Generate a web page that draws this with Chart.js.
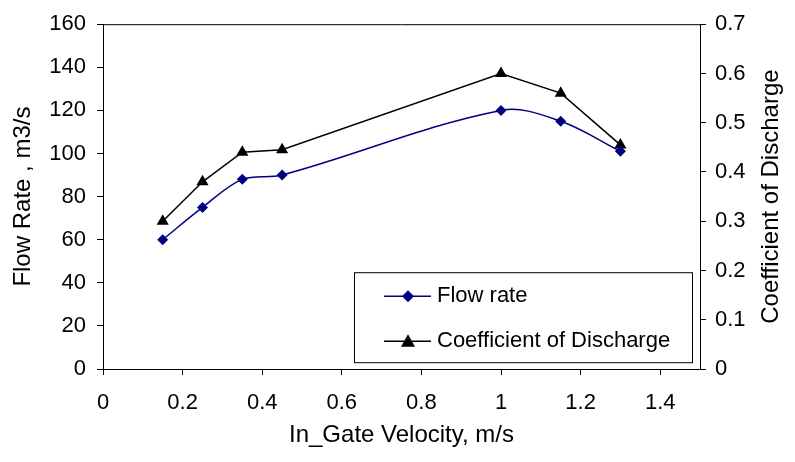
<!DOCTYPE html>
<html>
<head>
<meta charset="utf-8">
<script src="https://cdn.jsdelivr.net/npm/chart.js@4.4.0/dist/chart.umd.min.js"></script>
<style>
html,body{margin:0;padding:0;background:#fff;}
#wrap{position:relative;width:795px;height:462px;}
</style>
</head>
<body>
<div id="wrap"><canvas id="c" width="795" height="462"></canvas></div>
<script>
const velocity = [0.15, 0.25, 0.35, 0.45, 1.0, 1.15, 1.3];
const flowRate = [60, 75, 88, 90, 120, 115, 101];
const coefDischarge = [0.30, 0.38, 0.44, 0.445, 0.60, 0.56, 0.455];
const xTicks = [0, 0.2, 0.4, 0.6, 0.8, 1.0, 1.2, 1.4];
const seriesNames = ['Flow rate', 'Coefficient of Discharge'];
const xTitle = 'In_Gate Velocity, m/s';
const yTitle = 'Flow Rate , m3/s';
const y1Title = 'Coefficient of Discharge';

const FONT = 'Liberation Sans, Arial, sans-serif';
const NAVY = '#000080';
const fmt = v => String(Math.round(v * 10) / 10);

const frame = {
  id: 'frame',
  afterDatasetsDraw(chart) {
    const {ctx, chartArea: a} = chart;
    ctx.save();
    ctx.strokeStyle = '#000';
    ctx.lineWidth = 1;
    ctx.beginPath();
    ctx.moveTo(a.left, a.top + 0.5);
    ctx.lineTo(a.right, a.top + 0.5);
    ctx.stroke();
    ctx.restore();
  },
  afterDraw(chart) {
    const {ctx, chartArea: a} = chart;
    // right axis title, reading bottom to top
    ctx.save();
    ctx.fillStyle = '#000';
    ctx.font = '24px ' + FONT;
    ctx.textAlign = 'center';
    ctx.textBaseline = 'middle';
    ctx.translate(a.right + 71, (a.top + a.bottom) / 2);
    ctx.rotate(-Math.PI / 2);
    ctx.fillText(y1Title, 0, 0);
    ctx.restore();

    // legend box
    const bx = a.left + 251, by = a.top + 248, bw = a.right - 8 - bx, bh = 90;
    ctx.save();
    ctx.fillStyle = '#fff';
    ctx.fillRect(bx, by, bw, bh);
    ctx.strokeStyle = '#000';
    ctx.lineWidth = 1;
    ctx.strokeRect(bx + 0.5, by + 0.5, bw, bh);
    const rows = [
      {y: by + 24, color: NAVY, shape: 'diamond', text: seriesNames[0]},
      {y: by + 69, color: '#000', shape: 'triangle', text: seriesNames[1]}
    ];
    rows.forEach(r => {
      ctx.strokeStyle = r.color;
      ctx.lineWidth = 1.5;
      ctx.beginPath();
      ctx.moveTo(bx + 30, r.y);
      ctx.lineTo(bx + 77, r.y);
      ctx.stroke();
      ctx.fillStyle = r.color;
      const cx = bx + 54;
      ctx.beginPath();
      if (r.shape === 'diamond') {
        ctx.moveTo(cx, r.y - 6); ctx.lineTo(cx + 6, r.y); ctx.lineTo(cx, r.y + 6); ctx.lineTo(cx - 6, r.y);
      } else {
        ctx.moveTo(cx, r.y - 7); ctx.lineTo(cx + 7, r.y + 5.5); ctx.lineTo(cx - 7, r.y + 5.5);
      }
      ctx.closePath();
      ctx.fill();
      ctx.fillStyle = '#000';
      ctx.font = '22px ' + FONT;
      ctx.textBaseline = 'middle';
      ctx.fillText(r.text, bx + 83, r.y);
    });
    ctx.restore();
  }
};

new Chart(document.getElementById('c'), {
  type: 'line',
  data: {
    datasets: [
      {
        label: seriesNames[0],
        data: velocity.map((v, i) => ({x: v, y: flowRate[i]})),
        yAxisID: 'y',
        borderColor: NAVY,
        backgroundColor: NAVY,
        borderWidth: 1.5,
        pointStyle: 'rectRot',
        pointRadius: 5.5,
        pointBorderWidth: 0,
        tension: 0.35,
        fill: false
      },
      {
        label: seriesNames[1],
        data: velocity.map((v, i) => ({x: v, y: coefDischarge[i]})),
        yAxisID: 'y1',
        borderColor: '#000',
        backgroundColor: '#000',
        borderWidth: 1.5,
        pointStyle: 'triangle',
        pointRadius: 7,
        pointBorderWidth: 0,
        tension: 0,
        fill: false
      }
    ]
  },
  options: {
    responsive: false,
    animation: false,
    layout: {padding: {top: 22, left: 0, right: 0, bottom: 0}},
    plugins: {legend: {display: false}, tooltip: {enabled: false}},
    scales: {
      x: {
        type: 'linear', min: 0, max: 1.5,
        afterBuildTicks: s => { s.ticks = xTicks.map(v => ({value: v})); },
        afterFit: s => { s.height = 93; },
        grid: {drawOnChartArea: false, drawTicks: true, tickLength: 6, color: '#000'},
        border: {display: true, color: '#000', width: 1},
        ticks: {color: '#000', font: {family: FONT, size: 22}, padding: 15, maxRotation: 0, callback: fmt},
        title: {display: true, text: xTitle, color: '#000', font: {family: FONT, size: 24}, padding: {top: 0, bottom: 12}}
      },
      y: {
        position: 'left', min: 0, max: 160,
        afterFit: s => { s.width = 103; },
        grid: {drawOnChartArea: false, drawTicks: true, tickLength: 6, color: '#000'},
        border: {display: true, color: '#000', width: 1},
        ticks: {stepSize: 20, color: '#000', font: {family: FONT, size: 22}, padding: 11},
        title: {display: true, text: yTitle, color: '#000', font: {family: FONT, size: 24}, padding: {top: 9, bottom: 0}}
      },
      y1: {
        position: 'right', min: 0, max: 0.7,
        afterFit: s => { s.width = 95; },
        grid: {drawOnChartArea: false, drawTicks: true, tickLength: 6, color: '#000'},
        border: {display: true, color: '#000', width: 1},
        ticks: {stepSize: 0.1, color: '#000', font: {family: FONT, size: 22}, padding: 9, callback: fmt},
        title: {display: false}
      }
    }
  },
  plugins: [frame]
});
</script>
</body>
</html>
